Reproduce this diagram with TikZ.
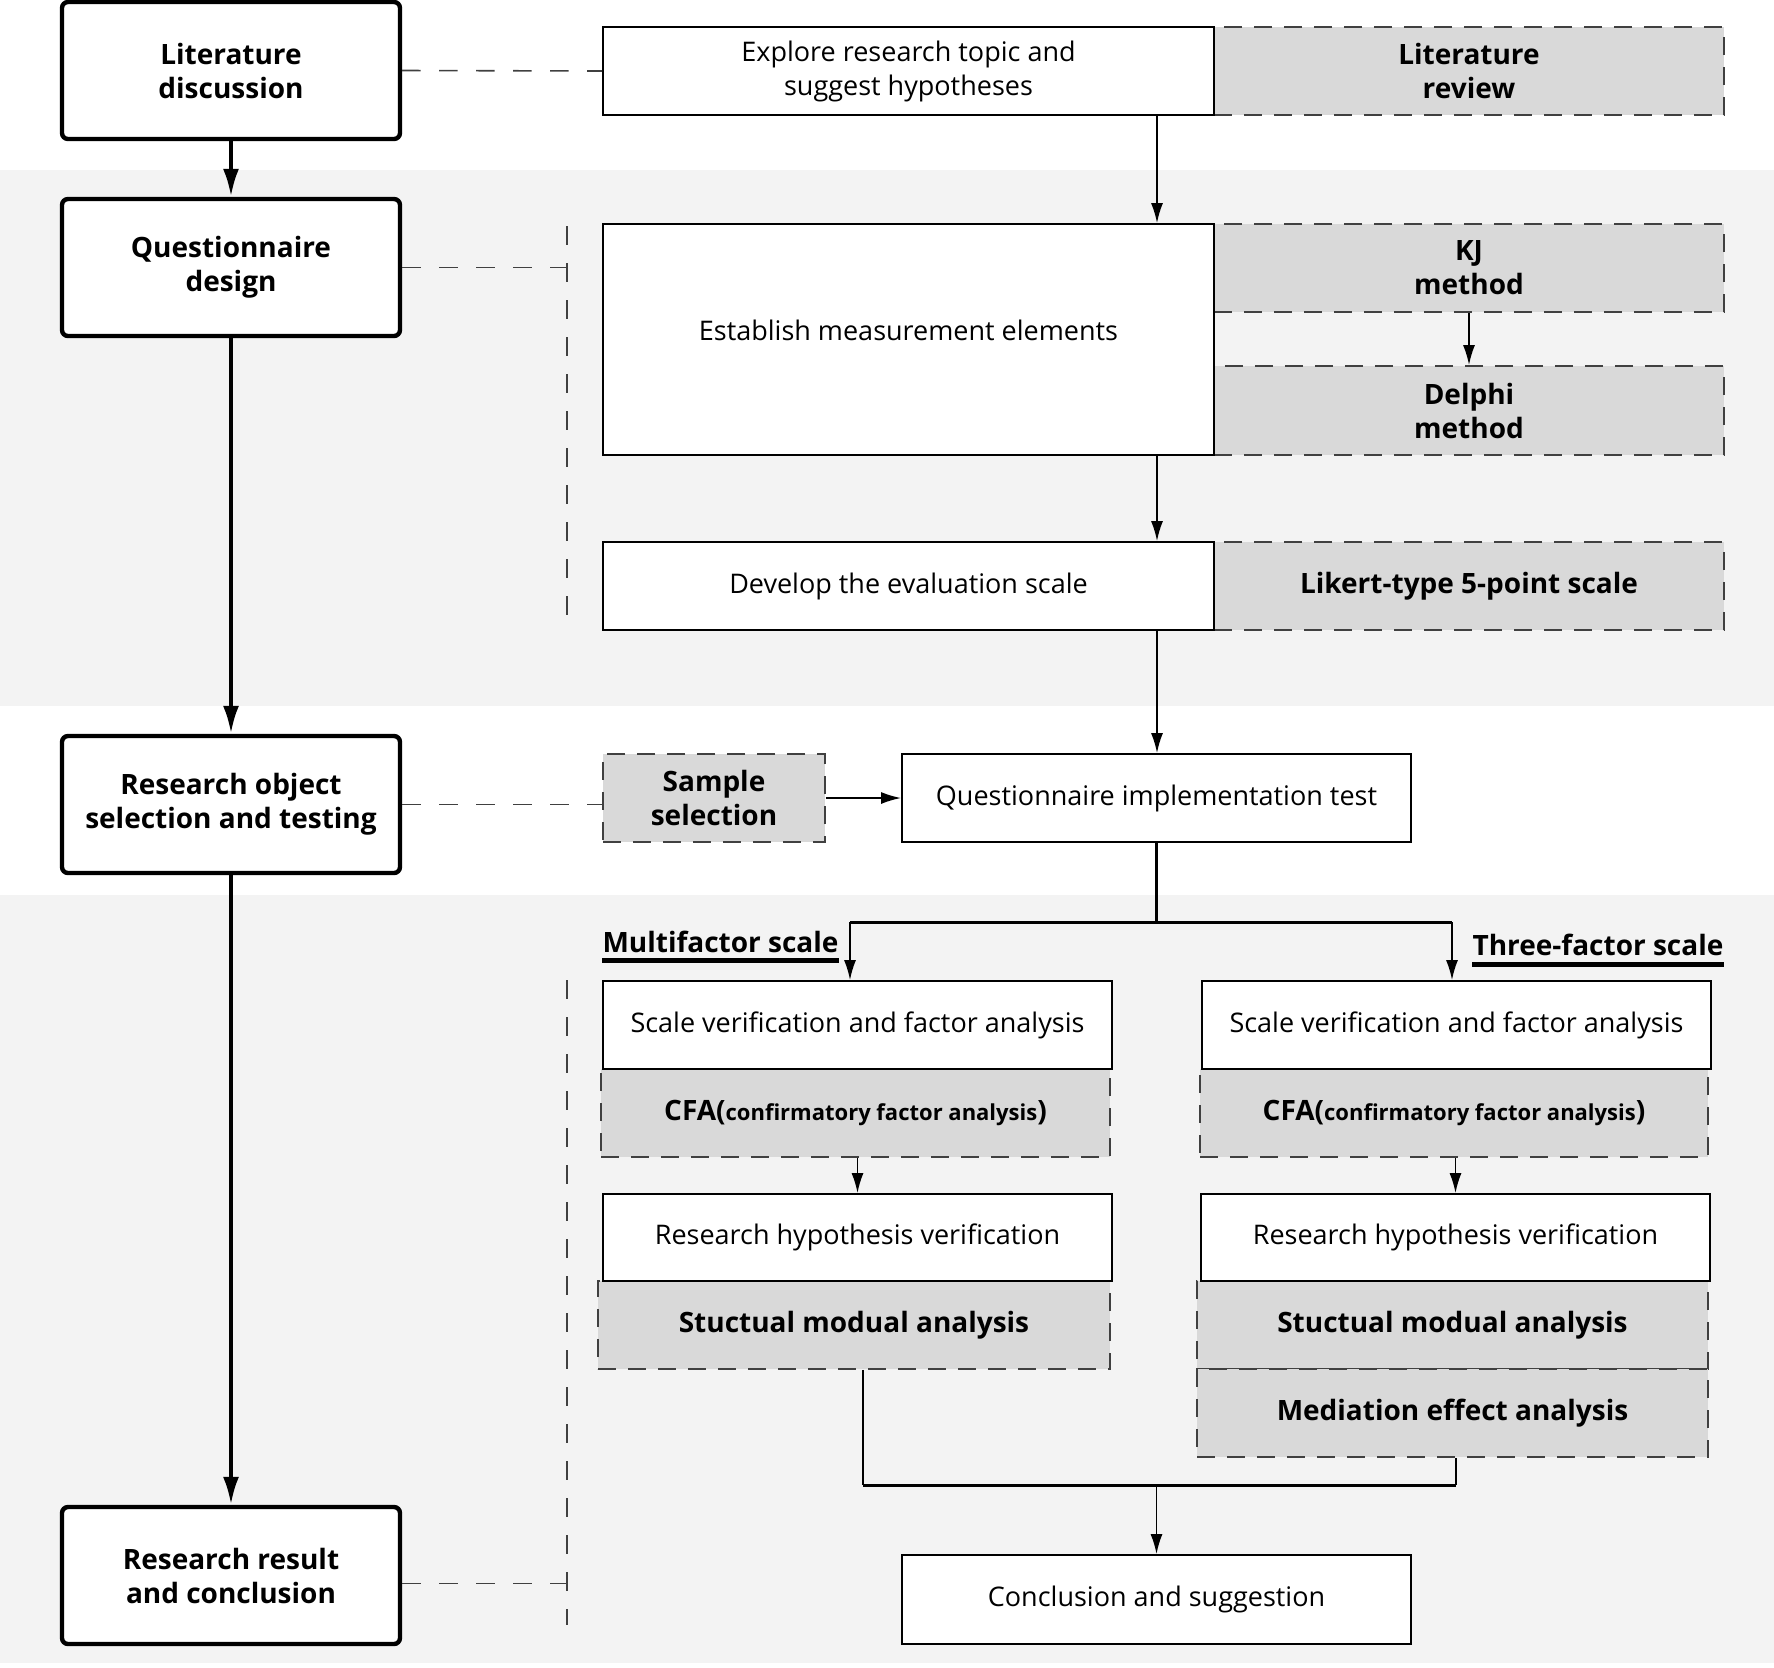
\documentclass[tikz,border=0pt]{standalone}
\usepackage{fontspec}
\setmainfont{Open Sans}
\usepackage{tikz}
\usetikzlibrary{arrows.meta, positioning}

\definecolor{bandgray}{HTML}{F3F3F3}
\definecolor{toolgray}{HTML}{D9D9D9}

\begin{document}
\begin{tikzpicture}[x=0.5pt, y=-0.5pt,
    every node/.style={font=\fontsize{13.5}{17}\selectfont, align=center, inner sep=0pt},
    phasebox/.style={draw, line width=2.2pt, rounded corners=3pt, fill=white, minimum width=169pt, minimum height=68.5pt, font=\bfseries\fontsize{14}{17}\selectfont},
    workbox/.style={draw, line width=0.9pt, fill=white, minimum height=44pt},
    toolbox/.style={draw=black!75, line width=0.9pt, dash pattern=on 9pt off 6pt, fill=toolgray, minimum height=44pt, font=\bfseries\fontsize{14}{17}\selectfont},
    dashlink/.style={draw=black!75, line width=0.8pt, dash pattern=on 9.25pt off 9.25pt},
    flow/.style={-{Latex[length=10pt, width=6pt]}, line width=0.9pt},
    mainflow/.style={-{Latex[length=14pt, width=8pt]}, line width=2pt}]

\fill[bandgray] (0,170) rectangle (1774,706);
\fill[bandgray] (0,895) rectangle (1774,1663);
\useasboundingbox (0,0) rectangle (1774,1667);

% phases on the left
\node[phasebox] (lit) at (231,70.5) {Literature\\discussion};
\node[phasebox] (qd) at (231,267.5) {Questionnaire\\design};
\node[phasebox] (ros) at (231,804.5) {Research object\\selection and testing};
\node[phasebox] (rrc) at (231,1575.5) {Research result\\and conclusion};

% methods (grey, dashed)
\node[toolbox, minimum width=255pt] (litrev) at (1469,71) {Literature\\review};
\node[toolbox, minimum width=255pt] (kj) at (1469,268) {KJ\\method};
\node[toolbox, minimum width=255pt, minimum height=44.5pt] (delphi) at (1469,410.5) {Delphi\\method};
\node[toolbox, minimum width=255pt] (likert) at (1469,586) {Likert-type 5-point scale};
\node[toolbox, minimum width=111pt] (sample) at (714,798) {Sample\\selection};
\node[toolbox, minimum width=254.5pt] (cfaL) at (855.5,1113) {CFA({\fontsize{11}{13}\selectfont confirmatory factor analysis})};
\node[toolbox, minimum width=256pt] (smaL) at (854,1325) {Stuctual modual analysis};
\node[toolbox, minimum width=254pt] (cfaR) at (1454,1113) {CFA({\fontsize{11}{13}\selectfont confirmatory factor analysis})};
\node[toolbox, minimum width=255.5pt] (smaR) at (1452.5,1325) {Stuctual modual analysis};
\node[toolbox, minimum width=255.5pt] (meaR) at (1452.5,1413) {Mediation effect analysis};

% steps (white)
\node[workbox, minimum width=305.5pt] (explore) at (908.5,71) {Explore research topic and\\suggest hypotheses};
\node[workbox, minimum width=305.5pt, minimum height=115.5pt, text depth=9pt] (establish) at (908.5,339.5) {Establish measurement elements};
\node[workbox, minimum width=305.5pt] (develop) at (908.5,586) {Develop the evaluation scale};
\node[workbox, minimum width=254.5pt] (qit) at (1156.5,798) {Questionnaire implementation test};
\node[workbox, minimum width=254.5pt] (svL) at (857.5,1025) {Scale verification and factor analysis};
\node[workbox, minimum width=254.5pt, minimum height=43.5pt] (rhL) at (857.5,1237.5) {Research hypothesis verification};
\node[workbox, minimum width=254.5pt] (svR) at (1456.5,1025) {Scale verification and factor analysis};
\node[workbox, minimum width=254.5pt, minimum height=43.5pt] (rhR) at (1455.5,1237.5) {Research hypothesis verification};
\node[workbox, minimum width=254.5pt, minimum height=44.5pt] (concl) at (1156.5,1599.5) {Conclusion and suggestion};

% branch labels
\node[anchor=base, font=\bfseries\fontsize{14}{17}\selectfont] (multi) at (720.5,952) {Multifactor scale};
\node[anchor=base, font=\bfseries\fontsize{14}{17}\selectfont] (three) at (1598,955) {Three-factor scale};
\draw[line width=2.2pt] ([yshift=-4pt]multi.south west) -- ([yshift=-4pt]multi.south east);
\draw[line width=2.2pt] ([yshift=-4.5pt]three.south west) -- ([yshift=-4.5pt]three.south east);

% left spine
\draw[mainflow] (lit) -- (qd);
\draw[mainflow] (qd) -- (ros);
\draw[mainflow] (ros) -- (rrc);

% dashed links
\coordinate (qdtop) at (567,226);
\coordinate (qdbot) at (567,622);
\coordinate (rrctop) at (567,980);
\coordinate (rrcbot) at (567,1625);
\draw[dashlink] (lit.east) -- (explore.west);
\draw[dashlink] (qd.east) -- (qd.east -| qdtop);
\draw[dashlink] (qdtop) -- (qdbot);
\draw[dashlink] (ros.east) -- (ros.east -| sample.west);
\draw[dashlink] ([yshift=-4pt]rrc.east) -- ([yshift=-4pt]rrc.east -| rrctop);
\draw[dashlink] (rrctop) -- (rrcbot);

% main flow
\coordinate (spine) at (1157,0);
\draw[flow] (explore.south -| spine) -- (establish.north -| spine);
\draw[flow] (establish.south -| spine) -- (develop.north -| spine);
\draw[flow] (develop.south -| spine) -- (qit.north -| spine);
\draw[flow] (kj) -- (delphi);
\draw[flow] (sample) -- (qit);

% branches
\coordinate (brL) at (850,922);
\coordinate (brR) at (1452,922);
\draw[line width=1.5pt] (qit.south) -- (qit.south |- brL);
\draw[line width=1.5pt] (brL) -- (brR);
\draw[flow] (brL) -- (brL |- svL.north);
\draw[flow] (brR) -- (brR |- svR.north);
\draw[flow] (cfaL.south -| rhL) -- (rhL.north);
\draw[flow] (cfaR.south -| rhR) -- (rhR.north);

% merge
\coordinate (mgL) at (863,1485);
\coordinate (mgR) at (1456,1485);
\draw[line width=0.9pt] (smaL.south -| mgL) -- (mgL);
\draw[line width=0.9pt] (meaR.south -| mgR) -- (mgR);
\draw[line width=1.5pt] (mgL) -- (mgR);
\draw[flow] (concl.north |- mgL) -- (concl.north);
\end{tikzpicture}
\end{document}
